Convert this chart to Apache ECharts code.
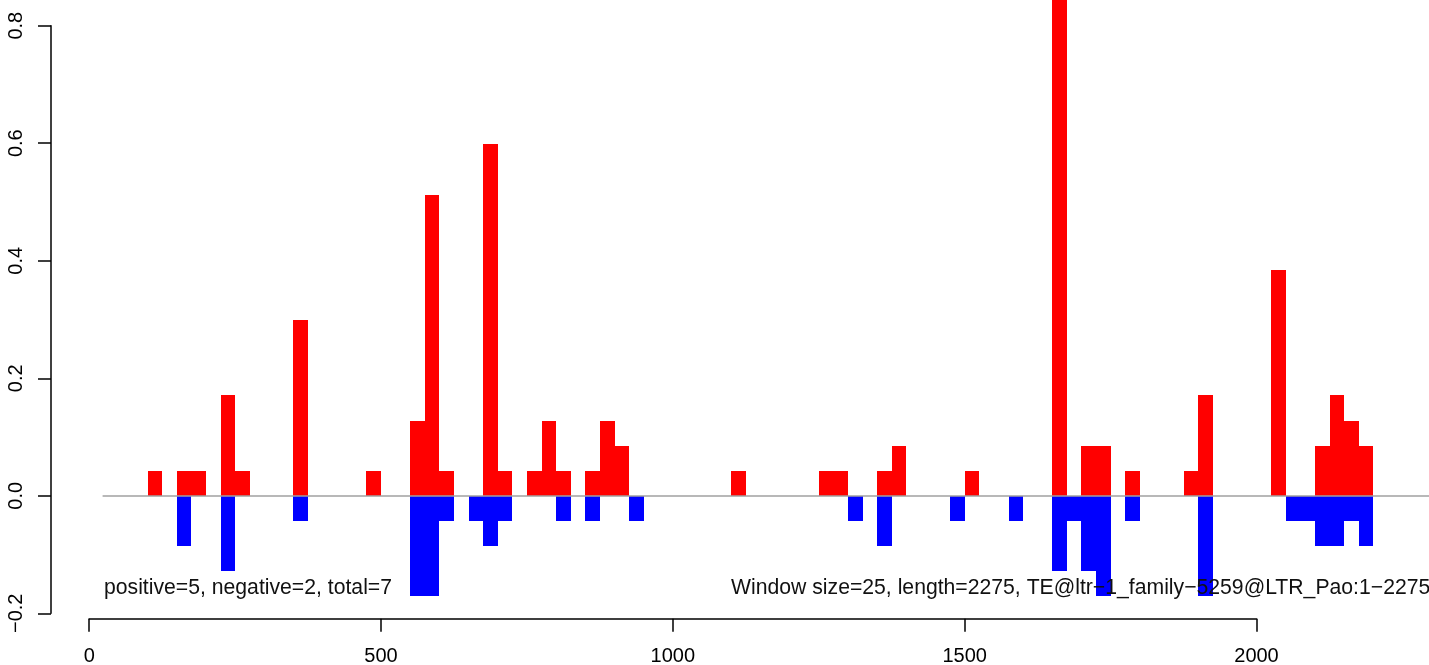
<!DOCTYPE html>
<html>
<head>
<meta charset="utf-8">
<title>window plot</title>
<script src="https://cdn.jsdelivr.net/npm/echarts@6.0.0/dist/echarts.min.js"></script>
<style>
    html, body { margin: 0; padding: 0; background: #fff; }
    #winPlot { width: 1429px; height: 665px; }
</style>
</head>
<body>
<div id="winPlot"></div>
<script>
// window size used for every bar
var winSize = 25;

// positive windows: start position and value
var posStart = [100, 150, 175, 225, 250, 350, 475, 550, 575, 600, 675, 700, 750, 775, 800,
    850, 875, 900, 1100, 1250, 1275, 1350, 1375, 1500, 1650, 1700, 1725, 1775, 1875, 1900,
    2025, 2100, 2125, 2150, 2175];
var posValue = [0.043, 0.043, 0.043, 0.171, 0.043, 0.299, 0.043, 0.128, 0.512, 0.043, 0.598, 0.043, 0.043, 0.128, 0.043,
    0.043, 0.128, 0.085, 0.043, 0.043, 0.043, 0.043, 0.085, 0.043, 0.9, 0.085, 0.085, 0.043, 0.043, 0.171,
    0.384, 0.085, 0.171, 0.128, 0.085];

// negative windows
var negStart = [150, 225, 350, 550, 575, 600, 650, 675, 700, 800, 850, 925, 1300, 1350,
    1475, 1575, 1650, 1675, 1700, 1725, 1775, 1900, 2050, 2075, 2100, 2125, 2150, 2175];
var negValue = [-0.085, -0.128, -0.043, -0.171, -0.171, -0.043, -0.043, -0.085, -0.043, -0.043, -0.043, -0.043, -0.043, -0.085,
    -0.043, -0.043, -0.128, -0.043, -0.128, -0.171, -0.043, -0.171, -0.043, -0.043, -0.085, -0.085, -0.043, -0.085];

var xTicks = [0, 500, 1000, 1500, 2000];
var yTicks = [-0.2, 0.0, 0.2, 0.4, 0.6, 0.8];

var leftText = 'positive=5, negative=2, total=7';
var rightText = 'Window size=25, length=2275, TE@ltr\u22121_family\u22125259@LTR_Pao:1\u22122275';

var fontName = '"Liberation Sans", Arial, Helvetica, sans-serif';

function pairs(xs, vs) {
    var out = [];
    for (var i = 0; i < xs.length; i++) {
        out.push([xs[i], vs[i]]);
    }
    return out;
}

// one rectangle per window, from 0 up (or down) to the value
// edges snapped to whole pixels so neighbours join without a seam
function drawWindow(params, api) {
    var x0 = api.value(0);
    var v = api.value(1);
    var a = api.coord([x0, 0]);
    var b = api.coord([x0 + winSize, v]);
    var left = Math.round(a[0]);
    var right = Math.round(b[0]);
    var y0 = Math.round(Math.min(a[1], b[1]));
    var y1 = Math.round(Math.max(a[1], b[1]));
    return {
        type: 'rect',
        shape: { x: left, y: y0, width: right - left, height: y1 - y0 },
        style: { fill: api.visual('color') }
    };
}

var chart = echarts.init(document.getElementById('winPlot'));

var option = {
    animation: false,
    backgroundColor: '#fff',
    grid: [
        // plotting area
        { left: 51, right: 0, top: 25.7, bottom: 51.7 },
        // only carries the x axis, drawn below the plot like R does
        { left: 89.2, right: 172.5, top: 618.5, height: 1 }
    ],
    xAxis: [
        {
            type: 'value',
            gridIndex: 0,
            min: -65.4,
            max: 2295.4,
            show: false
        },
        {
            type: 'value',
            gridIndex: 1,
            min: xTicks[0],
            max: xTicks[xTicks.length - 1],
            interval: 500,
            position: 'bottom',
            axisLine: { show: true, onZero: false, lineStyle: { color: '#000', width: 1.5 } },
            axisTick: { show: true, inside: false, length: 13, lineStyle: { color: '#000', width: 1.5 } },
            axisLabel: {
                margin: 28,
                color: '#000',
                fontSize: 20,
                fontFamily: fontName,
                showMinLabel: true,
                showMaxLabel: true,
                formatter: function (v) { return String(v); }
            },
            splitLine: { show: false }
        }
    ],
    yAxis: [
        {
            type: 'value',
            gridIndex: 0,
            min: yTicks[0],
            max: yTicks[yTicks.length - 1],
            interval: 0.2,
            axisLine: { show: true, onZero: false, lineStyle: { color: '#000', width: 1.5 } },
            axisTick: { show: true, inside: false, length: 13, lineStyle: { color: '#000', width: 1.5 } },
            axisLabel: {
                rotate: 90,
                margin: 25,
                color: '#000',
                fontSize: 20,
                fontFamily: fontName,
                formatter: function (v) {
                    if (Math.abs(v) < 1e-9) return '0.0';
                    return v.toFixed(1).replace('-', '\u2212');
                }
            },
            splitLine: { show: false }
        },
        {
            type: 'value',
            gridIndex: 1,
            show: false
        }
    ],
    series: [
        {
            // grey zero line
            type: 'line',
            xAxisIndex: 0,
            yAxisIndex: 0,
            data: [],
            silent: true,
            markLine: {
                symbol: 'none',
                silent: true,
                label: { show: false },
                lineStyle: { color: '#a0a0a0', width: 1.5, type: 'solid' },
                data: [[{ coord: [23, 0] }, { coord: [2295.4, 0] }]]
            },
            z: 1
        },
        {
            type: 'custom',
            name: 'positive',
            xAxisIndex: 0,
            yAxisIndex: 0,
            renderItem: drawWindow,
            itemStyle: { color: '#ff0000' },
            data: pairs(posStart, posValue),
            clip: false,
            z: 2
        },
        {
            type: 'custom',
            name: 'negative',
            xAxisIndex: 0,
            yAxisIndex: 0,
            renderItem: drawWindow,
            itemStyle: { color: '#0000ff' },
            data: pairs(negStart, negValue),
            clip: false,
            z: 2
        }
    ],
    graphic: [
        {
            type: 'text',
            x: 104,
            y: 588,
            z: 10,
            style: {
                text: leftText,
                fill: '#111',
                font: '21.2px ' + fontName,
                align: 'left',
                verticalAlign: 'middle'
            }
        },
        {
            type: 'text',
            x: 731,
            y: 588,
            z: 10,
            style: {
                text: rightText,
                fill: '#111',
                font: '21.2px ' + fontName,
                align: 'left',
                verticalAlign: 'middle'
            }
        }
    ]
};

chart.setOption(option);
</script>
</body>
</html>
